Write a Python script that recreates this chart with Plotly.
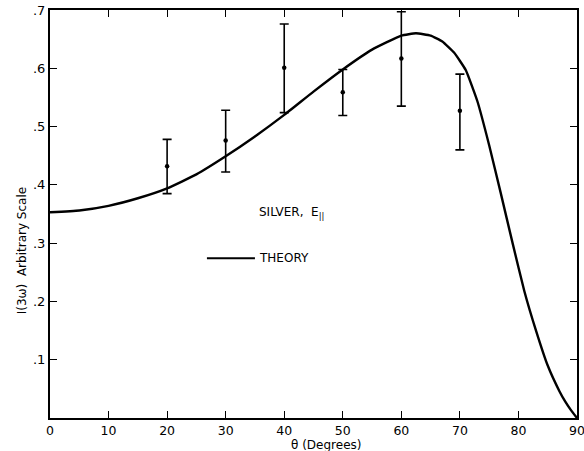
import plotly.graph_objects as go

# Theory curve
theory_x = [0, 5, 10, 15, 20, 25, 30, 35, 40, 45, 50, 55, 60, 62.5, 65, 67, 69,
            71, 73, 75, 77, 79, 81, 83, 85, 87, 88, 89, 90]
theory_y = [0.353, 0.356, 0.364, 0.377, 0.394, 0.418, 0.449, 0.483, 0.520, 0.560,
            0.598, 0.632, 0.656, 0.660, 0.656, 0.646, 0.627, 0.597, 0.543,
            0.468, 0.385, 0.300, 0.218, 0.150, 0.090, 0.046, 0.028, 0.013, 0.0]

# Measured points with error bars
exp_x = [20, 30, 40, 50, 60, 70]
exp_y = [0.432, 0.476, 0.601, 0.559, 0.617, 0.527]
exp_top = [0.478, 0.528, 0.676, 0.598, 0.697, 0.590]
exp_bot = [0.385, 0.422, 0.524, 0.519, 0.535, 0.460]

x_ticks = [0, 10, 20, 30, 40, 50, 60, 70, 80, 90]
y_ticks = [0.1, 0.2, 0.3, 0.4, 0.5, 0.6, 0.7]
y_labels = [".1", ".2", ".3", ".4", ".5", ".6", ".7"]

err_plus = [t - y for t, y in zip(exp_top, exp_y)]
err_minus = [y - b for y, b in zip(exp_y, exp_bot)]

FONT = "DejaVu Sans"
FS = 12

fig = go.Figure()
fig.add_trace(go.Scatter(
    x=theory_x, y=theory_y, mode="lines",
    line=dict(color="black", width=2.4, shape="spline", smoothing=0.4),
    showlegend=False, hoverinfo="skip"))
fig.add_trace(go.Scatter(
    x=exp_x, y=exp_y, mode="markers",
    marker=dict(color="black", size=4.5),
    error_y=dict(type="data", symmetric=False, array=err_plus, arrayminus=err_minus,
                 color="black", thickness=1.6, width=4.5),
    showlegend=False))

fig.update_layout(
    width=584, height=451,
    margin=dict(l=50, r=7, t=10, b=33),
    paper_bgcolor="white", plot_bgcolor="white",
    font=dict(family=FONT, color="black", size=FS),
    xaxis=dict(range=[0, 90], tickvals=x_ticks, ticktext=[str(v) for v in x_ticks],
               ticks="inside", ticklen=7, tickwidth=1.3, tickcolor="black",
               showline=True, linecolor="black", linewidth=2, mirror="allticks",
               showgrid=False, zeroline=False, tickfont=dict(size=12.5, family=FONT),
               automargin=False, ticklabeloverflow="allow"),
    yaxis=dict(range=[0, 0.7], tickvals=y_ticks, ticktext=y_labels,
               ticks="inside", ticklen=7, tickwidth=1.3, tickcolor="black",
               showline=True, linecolor="black", linewidth=2, mirror="allticks",
               showgrid=False, zeroline=False, tickfont=dict(size=13, family=FONT),
               automargin=False, ticklabeloverflow="allow"),
    showlegend=False,
)

fig.add_annotation(text="θ (Degrees)", xref="paper", yref="paper", x=0.523, y=0,
                   yshift=-26.5, xanchor="center", yanchor="middle", showarrow=False,
                   font=dict(size=FS, family=FONT, color="black"))
fig.add_annotation(text="I(3ω)  Arbitrary Scale", xref="paper", yref="y",
                   x=0, xshift=-28, y=0.286, textangle=-90, xanchor="center",
                   yanchor="middle", showarrow=False,
                   font=dict(size=FS, family=FONT, color="black"))
fig.add_annotation(text="SILVER,  E<sub>||</sub>", xref="x", yref="y",
                   x=35.4, y=0.352, xanchor="left", yanchor="middle", showarrow=False,
                   font=dict(size=FS, family=FONT, color="black"))
fig.add_annotation(text="THEORY", xref="x", yref="y",
                   x=35.4, y=0.274, xanchor="left", yanchor="middle", showarrow=False,
                   font=dict(size=FS, family=FONT, color="black"))
fig.add_shape(type="line", xref="x", yref="y", x0=26.8, x1=35.0, y0=0.274, y1=0.274,
              line=dict(color="black", width=2))

fig.write_html("out.html")
